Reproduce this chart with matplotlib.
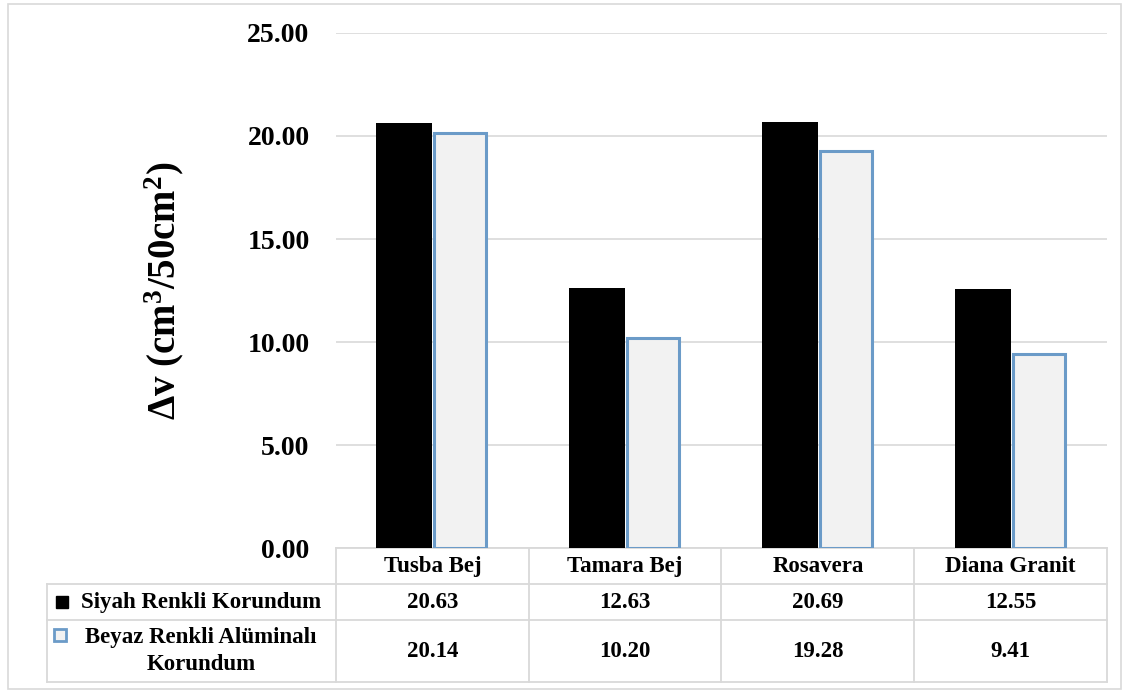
import matplotlib.pyplot as plt
from matplotlib.patches import Rectangle

categories = ["Tusba Bej", "Tamara Bej", "Rosavera", "Diana Granit"]
siyah = [20.63, 12.63, 20.69, 12.55]
beyaz = [20.14, 10.20, 19.28, 9.41]
series_names = ["Siyah Renkli Korundum", "Beyaz Renkli Alüminalı\nKorundum"]
yticks = [0, 5, 10, 15, 20, 25]

plt.rcParams["font.family"] = ["Liberation Serif", "DejaVu Serif"]
plt.rcParams["font.weight"] = "bold"
plt.rcParams["mathtext.fontset"] = "custom"
plt.rcParams["mathtext.rm"] = "Liberation Serif:bold"
plt.rcParams["mathtext.it"] = "Liberation Serif:bold"
plt.rcParams["mathtext.bf"] = "Liberation Serif:bold"

grid_col = "#d9d9d9"
blue_edge = "#6b9bc8"

fig = plt.figure(figsize=(11.29, 6.93), dpi=100)
ax = fig.add_axes([0.2976, 0.2092, 0.6829, 0.7432])

# outer chart frame
fig.patches.append(Rectangle((0.007, 0.006), 0.986, 0.988, transform=fig.transFigure,
                             fill=False, edgecolor=grid_col, linewidth=1.2))

x = list(range(len(categories)))
w = 0.29
ax.bar([i - w / 2 for i in x], siyah, width=w, color="black", zorder=3)
ax.bar([i + w / 2 for i in x], beyaz, width=w - 0.02, color="#f2f2f2",
       edgecolor=blue_edge, linewidth=2.2, zorder=3)

ax.set_xlim(-0.5, len(categories) - 0.5)
ax.set_ylim(0, 25)
ax.set_yticks(yticks)
ax.set_yticklabels([f"{v:.2f}" for v in yticks], fontsize=20, fontweight="bold")
ax.tick_params(axis="y", length=0, pad=19)
ax.set_xticks([])
for s in ax.spines.values():
    s.set_visible(False)
ax.grid(axis="y", color=grid_col, linewidth=1.2, zorder=0)
ax.set_ylabel(r"Δv (cm$^{3}$/50cm$^{2}$)", fontsize=28, fontweight="bold")
ax.yaxis.set_label_coords(-0.194, 0.5)

# data table under the axis
tr = ax.get_xaxis_transform()
left = -2.0
right = len(categories) - 0.5
rows = [0.0, -0.070, -0.140, -0.260]
lkw = dict(color=grid_col, linewidth=1.3, transform=tr, clip_on=False, zorder=1)
ax.plot([-0.5, right], [rows[0], rows[0]], **lkw)
for yy in rows[1:]:
    ax.plot([left, right], [yy, yy], **lkw)
ax.plot([left, left], [rows[1], rows[3]], **lkw)
for xx in [i - 0.5 for i in range(len(categories) + 1)]:
    ax.plot([xx, xx], [rows[0], rows[3]], **lkw)

tkw = dict(transform=tr, ha="center", va="center", fontsize=16.5, fontweight="bold", clip_on=False)
for i, c in enumerate(categories):
    ax.text(i, (rows[0] + rows[1]) / 2, c, **tkw)
    ax.text(i, (rows[1] + rows[2]) / 2, f"{siyah[i]:.2f}", **tkw)
    ax.text(i, (rows[2] + rows[3]) / 2, f"{beyaz[i]:.2f}", **tkw)

ax.text(-1.2, (rows[1] + rows[2]) / 2, series_names[0], **tkw)
ax.text(-1.2, (rows[2] + rows[3]) / 2, series_names[1], linespacing=1.35, **tkw)
ax.plot([-1.92], [(rows[1] + rows[2]) / 2], marker="s", markersize=8, color="black",
        transform=tr, clip_on=False, linestyle="")
ax.plot([-1.93], [rows[2] - 0.028], marker="s", markersize=8, markerfacecolor="#f2f2f2",
        markeredgecolor=blue_edge, markeredgewidth=2, transform=tr, clip_on=False, linestyle="")

fig.savefig("out.png", dpi=100)
